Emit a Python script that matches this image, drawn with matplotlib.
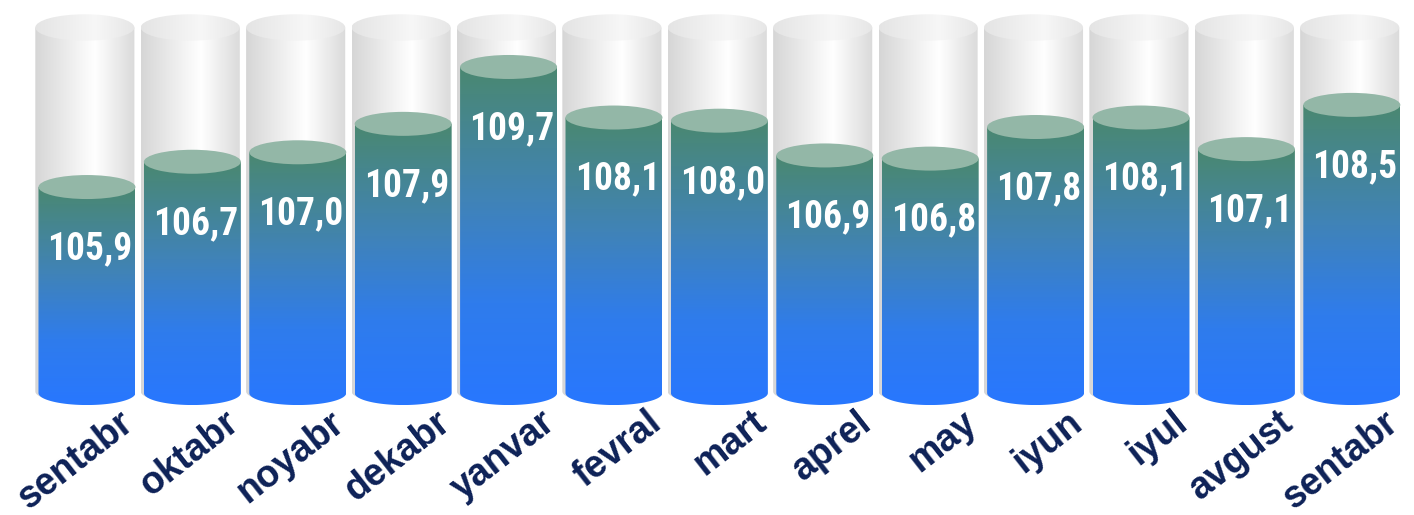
import numpy as np
import matplotlib.pyplot as plt
from matplotlib.colors import LinearSegmentedColormap
from matplotlib.patches import Ellipse, PathPatch
from matplotlib.path import Path

# Data
months = ['sentabr', 'oktabr', 'noyabr', 'dekabr', 'yanvar', 'fevral', 'mart',
          'aprel', 'may', 'iyun', 'iyul', 'avgust', 'sentabr']
values = [105.9, 106.7, 107.0, 107.9, 109.7, 108.1, 108.0,
          106.9, 106.8, 107.8, 108.1, 107.1, 108.5]

base = 99.38       # where the cylinders start
glass_top = 110.95  # height of the grey "glass" cylinders

# colour maps
blue_cmap = LinearSegmentedColormap.from_list(
    'fill', [(0, '#2877ff'), (0.3, '#2f7cec'), (0.6, '#4083b8'), (1, '#4a8870')])
grey_cmap = LinearSegmentedColormap.from_list(
    'glass', [(0, '#d6d6d6'), (0.6, '#ffffff'), (1, '#dadada')])
top_cmap = LinearSegmentedColormap.from_list(
    'gtop', [(0, '#e4e4e4'), (0.6, '#f7f7f7'), (1, '#e6e6e6')])

fig = plt.figure(figsize=(14.14, 5.15), dpi=100)
ax = fig.add_axes([0, 0, 1, 1])
ax.axis('off')


def body_path(x, bottom, top, w, eh):
    t = np.linspace(np.pi, 2 * np.pi, 60)
    xs = np.concatenate([[x - w / 2], x + w / 2 * np.cos(t), [x + w / 2]])
    ys = np.concatenate([[top], bottom + eh / 2 * np.sin(t), [top]])
    verts = list(zip(xs, ys)) + [(xs[0], ys[0])]
    codes = [Path.MOVETO] + [Path.LINETO] * (len(verts) - 2) + [Path.CLOSEPOLY]
    return Path(verts, codes)


def gradient_body(x, bottom, top, w, eh, cmap, horizontal, z):
    patch = PathPatch(body_path(x, bottom, top, w, eh), facecolor='none',
                      edgecolor='none', zorder=z)
    ax.add_patch(patch)
    if horizontal:
        grad = np.linspace(0, 1, 256).reshape(1, -1)
    else:
        grad = np.linspace(0, 1, 256).reshape(-1, 1)
    im = ax.imshow(grad, cmap=cmap, extent=(x - w / 2, x + w / 2, bottom - eh / 2, top),
                   origin='lower', aspect='auto', zorder=z, interpolation='bilinear')
    im.set_clip_path(patch)


gw, bw = 0.94, 0.92
eh = 0.76

for i, v in enumerate(values):
    # grey glass cylinder
    gradient_body(i - 0.02, base + 0.05, glass_top, gw, eh, grey_cmap, True, 1)
    gtop = Ellipse((i - 0.02, glass_top), gw, eh * 1.1, facecolor='none', edgecolor='none', zorder=2)
    ax.add_patch(gtop)
    im = ax.imshow(np.linspace(0, 1, 256).reshape(1, -1), cmap=top_cmap,
                   extent=(i - 0.02 - gw / 2, i - 0.02 + gw / 2, glass_top - eh, glass_top + eh),
                   aspect='auto', zorder=2)
    im.set_clip_path(gtop)

    # filled blue cylinder
    gradient_body(i, base, v, bw, eh, blue_cmap, False, 3)
    ax.add_patch(Ellipse((i, v), bw, eh, facecolor='#93b7a7', edgecolor='none', zorder=4))

    ax.text(i + 0.03, v - 1.95, f'{v:.1f}'.replace('.', ','), color='white',
            fontsize=27, fontweight='bold', family='Roboto Condensed',
            ha='center', va='center', zorder=5)

    ax.text(i + 0.3, base - 0.35, months[i], color='#0d2157', fontsize=27,
            fontweight='bold', family='Liberation Sans',
            rotation=38, rotation_mode='anchor', ha='right', va='top', zorder=5)

ax.set_xlim(-0.825, 12.59)
ax.set_ylim(95.52, 111.82)
fig.savefig('out.png', dpi=100)
